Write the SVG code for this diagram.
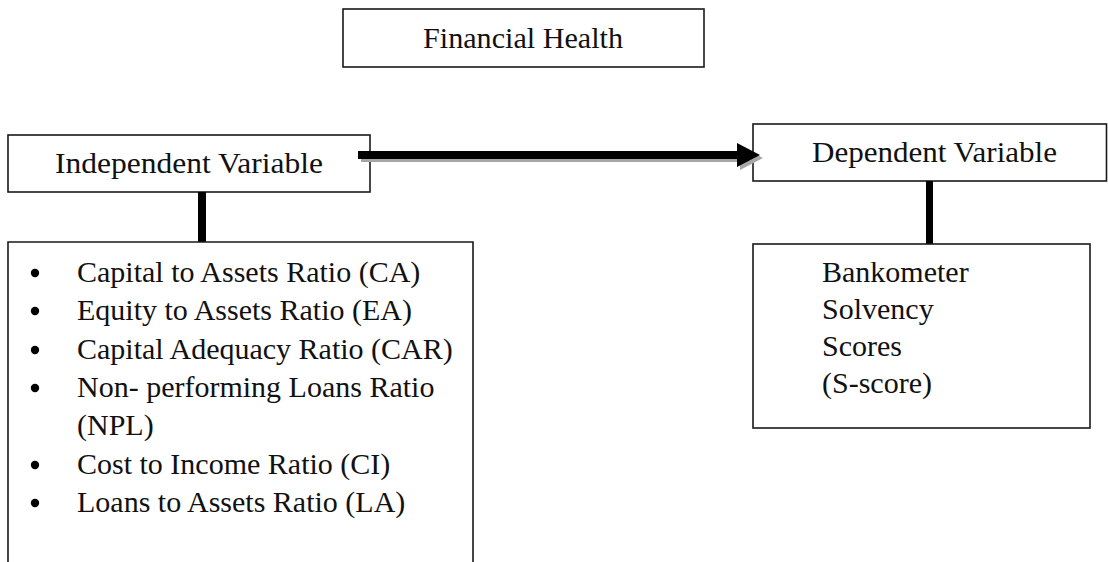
<svg xmlns="http://www.w3.org/2000/svg" width="1108" height="562" viewBox="0 0 1108 562">
<style>
.box{fill:#fff;stroke:#1a1a1a;stroke-width:1.6}
.t{font-family:"Liberation Serif","Times New Roman",serif;font-size:30px;fill:#111}
.bar{fill:#000}
.sh{fill:#a6a6a6}
</style>
<rect width="1108" height="562" fill="#fff"/>
<g id="financial-health">
<rect class="box" x="343" y="9" width="361" height="58"/>
<text class="t" x="423" y="48" textLength="200" lengthAdjust="spacingAndGlyphs">Financial Health</text>
</g>
<g id="independent-variable">
<rect class="box" x="8" y="135" width="362" height="57"/>
<text class="t" x="55" y="173" textLength="268" lengthAdjust="spacingAndGlyphs">Independent Variable</text>
</g>
<g id="dependent-variable">
<rect class="box" x="753" y="124" width="353.5" height="57"/>
<text class="t" x="812" y="162" textLength="245" lengthAdjust="spacingAndGlyphs">Dependent Variable</text>
</g>
<g id="connectors">
<rect class="sh" x="361" y="154" width="380" height="8"/>
<polygon class="sh" points="740,146 763,158 740,170"/>
<rect class="bar" x="358" y="151" width="380" height="8"/>
<polygon class="bar" points="737,143 760,155 737,167"/>
<rect class="sh" x="198" y="238" width="8" height="8"/>
<rect class="bar" x="198" y="192" width="8" height="50"/>
<rect class="sh" x="926" y="240" width="7" height="7"/>
<rect class="bar" x="926" y="181" width="7" height="63"/>
</g>
<g id="independent-list">
<path d="M8,570 V242 H473 V570" fill="#fff" stroke="#1a1a1a" stroke-width="1.6"/>
<g fill="#000">
<circle cx="35" cy="273" r="4.2"/>
<circle cx="35" cy="311" r="4.2"/>
<circle cx="35" cy="350" r="4.2"/>
<circle cx="35" cy="388" r="4.2"/>
<circle cx="35" cy="465" r="4.2"/>
<circle cx="35" cy="503" r="4.2"/>
</g>
<text class="t" x="77" y="282">Capital to Assets Ratio (CA)</text>
<text class="t" x="77" y="320">Equity to Assets Ratio (EA)</text>
<text class="t" x="77" y="359">Capital Adequacy Ratio (CAR)</text>
<text class="t" x="77" y="397">Non- performing Loans Ratio</text>
<text class="t" x="77" y="435">(NPL)</text>
<text class="t" x="77" y="474">Cost to Income Ratio (CI)</text>
<text class="t" x="77" y="512">Loans to Assets Ratio (LA)</text>
</g>
<g id="s-score">
<rect class="box" x="753" y="244" width="337" height="184"/>
<text class="t" x="822" y="282">Bankometer</text>
<text class="t" x="822" y="319">Solvency</text>
<text class="t" x="822" y="356">Scores</text>
<text class="t" x="822" y="393">(S-score)</text>
</g>
</svg>
